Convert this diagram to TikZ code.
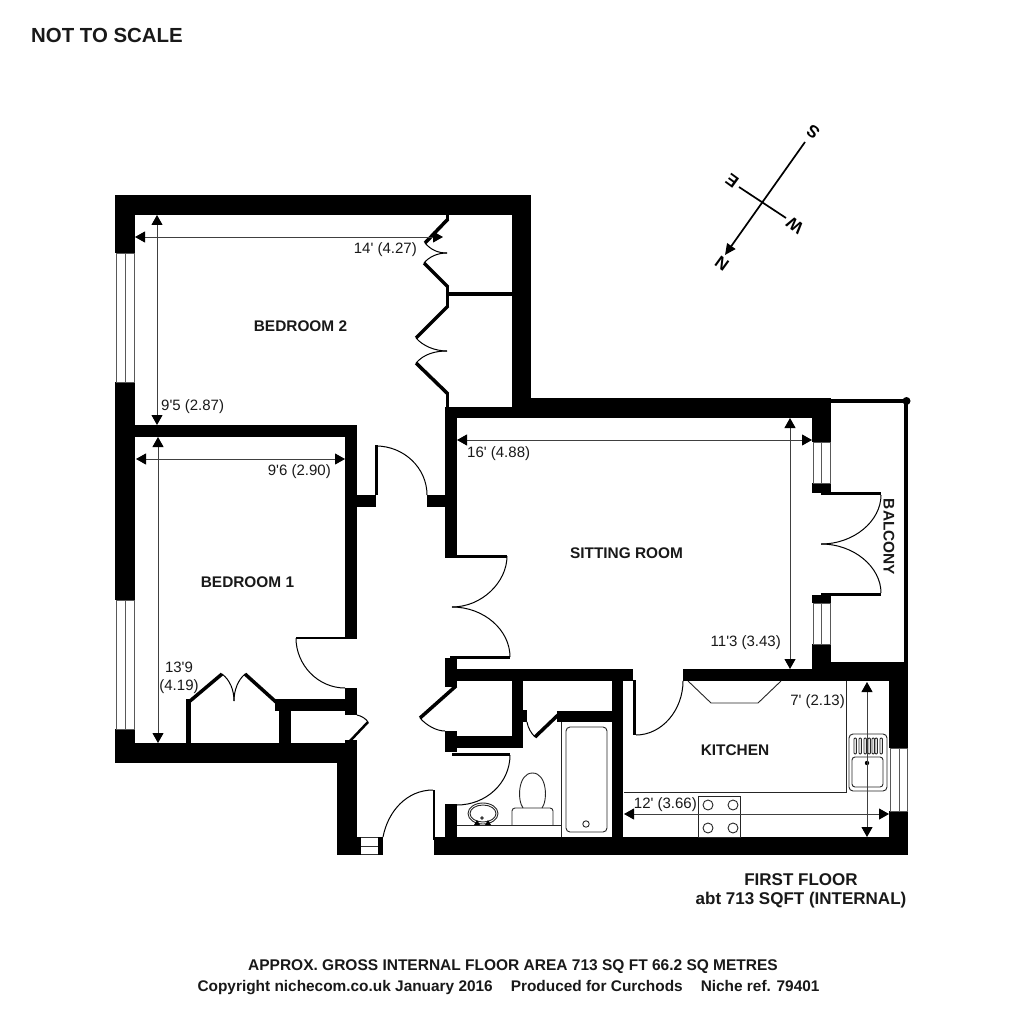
\documentclass[tikz,border=0pt]{standalone}
\usepackage{fontspec}
\usetikzlibrary{arrows.meta}
\newfontfamily\plansans{Liberation Sans}
\tikzset{
  wall/.style={fill=black,draw=none},
  leaf/.style={line width=3.5pt,black,line cap=butt},
  swing/.style={line width=1pt,black},
  fine/.style={line width=.9pt,black!85},
  glass/.style={line width=.8pt,black!65},
  dimline/.style={line width=1pt,black!75,{Triangle[length=10pt,width=11pt,black]}-{Triangle[length=10pt,width=11pt,black]}},
  room/.style={font=\plansans\bfseries\fontsize{15.4}{17}\selectfont,inner sep=0pt,text=black!90},
  dimtext/.style={font=\plansans\fontsize{15}{18}\selectfont,inner sep=0pt,text=black!90,align=center},
  note/.style={font=\plansans\bfseries\fontsize{14.5}{20}\selectfont,inner sep=0pt,align=center,text=black!90},
  compass/.style={font=\plansans\bfseries\fontsize{17}{19}\selectfont,inner sep=0pt,rotate=144}
}
\newcommand{\wallbox}[4]{\fill[wall] (#1,#2) rectangle (#3,#4);}
\begin{document}
\begin{tikzpicture}[x=1pt,y=-1pt]
\useasboundingbox (0,0) rectangle (1024,1024);
\fill[white] (0,0) rectangle (1024,1024);
% outer walls, bedrooms
\wallbox{115}{195}{531}{215}
\wallbox{115}{215}{135}{253}
\wallbox{115}{382}{135}{600}
\wallbox{115}{729}{135}{763}
\wallbox{135}{743}{357}{763}
\wallbox{512}{215}{531}{407}
\wallbox{446}{292}{512}{296}
\wallbox{445}{407}{531}{418}
\wallbox{531}{398}{831}{418}
\wallbox{135}{425}{357}{437}
\wallbox{345}{437}{357}{637}
\wallbox{357}{495}{376}{507}
\wallbox{427}{495}{445}{507}
\wallbox{445}{418}{457}{556}
\wallbox{446}{215}{449}{220}
\wallbox{446}{286}{449}{292}
\wallbox{446}{296}{449}{307}
\wallbox{446}{393}{449}{407}
% wardrobe and cupboards, bedroom 1
\wallbox{345}{688}{357}{715}
\wallbox{275}{699}{345}{711}
\wallbox{279}{711}{291}{743}
\wallbox{186}{699}{191}{743}
\wallbox{345}{740}{357}{743}
\wallbox{337}{763}{357}{855}
\wallbox{357}{837}{361}{855}
\wallbox{378}{837}{383}{855}
% services
\wallbox{445}{658}{457}{687}
\wallbox{457}{669}{633}{681}
\wallbox{445}{731}{457}{752}
\wallbox{457}{736}{523}{748}
\wallbox{512}{681}{523}{736}
\wallbox{523}{710}{527}{722}
\wallbox{557}{711}{612}{722}
\wallbox{612}{681}{623}{837}
\wallbox{445}{804}{457}{837}
\wallbox{434}{837}{908}{855}
% sitting room right and balcony
\wallbox{812}{418}{831}{442}
\wallbox{812}{483}{831}{493}
\wallbox{812}{595}{831}{603}
\wallbox{812}{644}{831}{662}
\wallbox{683}{669}{889}{681}
\wallbox{812}{662}{908}{669}
\wallbox{889}{669}{908}{748}
\wallbox{889}{811}{908}{837}
\wallbox{904}{401}{908}{662}
\wallbox{831}{399}{908}{403}
\fill (906.5,401) circle (4);
% windows
\draw[glass] (116,253) rectangle (134,382) (125,253) -- (125,382);
\draw[glass] (116,600) rectangle (134,729) (125,600) -- (125,729);
\draw[glass] (813,442) rectangle (830,483) (821,442) -- (821,483);
\draw[glass] (813,603) rectangle (830,644) (821,603) -- (821,644);
\draw[glass] (890,748) rectangle (907,811) (899,748) -- (899,811);
\draw[glass,black!80] (361,837.5) -- (378,837.5) (361,846) -- (378,846) (361,854.5) -- (378,854.5);
% door leaves and swings
\draw[leaf] (448,219) -- (425,243);
\draw[swing] (425,243) .. controls (431,250) and (438,253) .. (447,253);
\draw[swing] (447,253) .. controls (437,253) and (429,257) .. (424,263);
\draw[leaf] (424,263) -- (448,287);
\draw[leaf] (448,306) -- (416,338);
\draw[swing] (416,338) .. controls (423,346) and (435,351) .. (447,351);
\draw[swing] (447,351) .. controls (435,351) and (424,354) .. (416,363);
\draw[leaf] (416,363) -- (448,394);
\draw[leaf] (376.5,445) -- (376.5,495);
\draw[swing] (376,446) .. controls (404,446) and (427,468) .. (427,495);
\draw[line width=3pt] (445,556.5) -- (507,556.5);
\draw[swing] (452,607) .. controls (482,607) and (507,582) .. (507,556);
\draw[swing] (452,607) .. controls (484,607) and (510,630) .. (510,657);
\draw[line width=3pt] (450,657.5) -- (510,657.5);
\draw[line width=2pt] (296,638) -- (357,638);
\draw[swing] (296,638) .. controls (296,665) and (318,688) .. (345,688);
\draw[swing] (357,715) .. controls (362,716) and (366,719) .. (368,722);
\draw[line width=2.5pt] (368,722) -- (350,741);
\draw[leaf] (190,701) -- (222,674);
\draw[swing] (222,674) .. controls (230,680) and (234,690) .. (234,701);
\draw[swing] (234,701) .. controls (234,690) and (238,680) .. (245,674);
\draw[leaf] (245,674) -- (276,702);
\draw[line width=2pt] (433.5,790) -- (433.5,840);
\draw[swing] (383,837) .. controls (388,811) and (407,790) .. (433,790);
\draw[line width=3pt] (634.5,680) -- (634.5,735);
\draw[swing] (636,735) .. controls (662,735) and (683,710) .. (683,681);
\draw[line width=3pt] (452,754.5) -- (510,754.5);
\draw[swing] (510,755) .. controls (510,783) and (486,805) .. (457,805);
\draw[leaf] (456,686) -- (420,718);
\draw[swing] (420,718) .. controls (427,726) and (437,731) .. (445,731);
\draw[swing] (527,722) .. controls (528,728) and (531,733) .. (535,737);
\draw[leaf] (535,737) -- (558,715);
\draw[line width=3pt] (821,493.5) -- (881,493.5);
\draw[swing] (881,495) .. controls (881,521) and (854,544) .. (821,544);
\draw[swing] (881,593) .. controls (881,567) and (854,544) .. (821,544);
\draw[line width=3pt] (821,594.5) -- (881,594.5);
% bathroom fittings
\draw[fine] (561,722) -- (561,837);
\draw[fine,rounded corners=4pt] (566,727) rectangle (607,832);
\draw[fine] (586,824) circle (3.2);
\draw[fine] (457,825) -- (561,825);
\draw[fine,rounded corners=3pt] (512,825) -- (512,808) -- (553,808) -- (553,825);
\draw[fine] (523,808) .. controls (517,800) and (518,773) .. (532.5,773) .. controls (547,773) and (548,800) .. (542,808);
\draw[fine] (483,813.5) ellipse (15 and 10.5);
\draw[fine] (483,813.5) ellipse (13 and 8.5);
\fill (477,820) -- (474,825) -- (480,825) -- cycle;
\fill (488,820) -- (485,825) -- (491,825) -- cycle;
\draw[fine] (482,818) circle (1.2);
% kitchen fittings
\draw[fine] (624,792) -- (846,792) -- (846,681);
\draw[fine] (688,681) -- (711,703) -- (758,703) -- (781,681);
\draw[fine] (698,796) rectangle (740,837);
\draw[fine] (708,805) circle (5) (733,805) circle (5) (708,828) circle (5) (733,828) circle (5);
\draw[fine,rounded corners=4pt] (849,734) rectangle (887,791);
\draw[fine,rounded corners=3pt] (852,757) rectangle (883,787);
\foreach \sx in {854,859,864,868,872,875,880}{
  \draw[fine,rounded corners=1pt] (\sx,738) rectangle ++(2.4,16);
}
\fill (867,763) circle (2.2);
% dimension arrows
\draw[dimline] (135,237) -- (443,237);
\draw[dimline] (157,215) -- (157,425);
\draw[dimline] (136,459) -- (345,459);
\draw[dimline] (158,437) -- (158,743);
\draw[dimline] (457,440) -- (812,440);
\draw[dimline] (790,418) -- (790,669);
\draw[dimline] (624,814) -- (889,814);
\draw[dimline] (867,682) -- (867,837);
% compass
\draw[line width=1.7pt,-{Triangle[length=11pt,width=10pt]}] (805,142) -- (725,255);
\draw[line width=1.7pt] (739,187) -- (786,218);
\node[compass] (compS) at (813,132) {S};
\node[compass] (compE) at (732,181) {E};
\node[compass] (compW) at (795,226) {W};
\node[compass] (compN) at (722,264) {N};
% labels
\node[room] (bedtwo) at (300.5,326) {BEDROOM 2};
\node[room] (bedone) at (247.5,582) {BEDROOM 1};
\node[room] (sitting) at (626.5,553) {SITTING ROOM};
\node[room] (kitchen) at (735,750) {KITCHEN};
\node[room,rotate=-90] (balcony) at (889,537) {BALCONY};
\node[dimtext,anchor=east] (dima) at (417,249.5) {14' (4.27)};
\node[dimtext,anchor=west] (dimb) at (161,406.5) {9'5 (2.87)};
\node[dimtext,anchor=east] (dimc) at (331,471.5) {9'6 (2.90)};
\node[dimtext] (dimd) at (179,678) {13'9\\(4.19)};
\node[dimtext,anchor=west] (dime) at (467,453.5) {16' (4.88)};
\node[dimtext,anchor=east] (dimf) at (781,643) {11'3 (3.43)};
\node[dimtext,anchor=east] (dimg) at (845,702) {7' (2.13)};
\node[dimtext,anchor=east] (dimh) at (697,805) {12' (3.66)};
\node[note,font=\plansans\bfseries\fontsize{20.4}{22}\selectfont,anchor=west] (nts) at (31,35) {NOT TO SCALE};
\node[note,font=\plansans\bfseries\fontsize{17}{19}\selectfont] (floor) at (801,891) {FIRST FLOOR\\abt 713 SQFT (INTERNAL)};
\node[note,font=\plansans\bfseries\fontsize{15.5}{20}\selectfont] (area) at (513,967) {APPROX. GROSS INTERNAL FLOOR AREA 713 SQ FT 66.2 SQ METRES};
\node[note,font=\plansans\bfseries\fontsize{15.4}{20}\selectfont] (copy) at (508.5,988) {Copyright nichecom.co.uk January 2016\hspace{18pt}Produced for Curchods\hspace{18pt}Niche ref. 79401};
\end{tikzpicture}
\end{document}
